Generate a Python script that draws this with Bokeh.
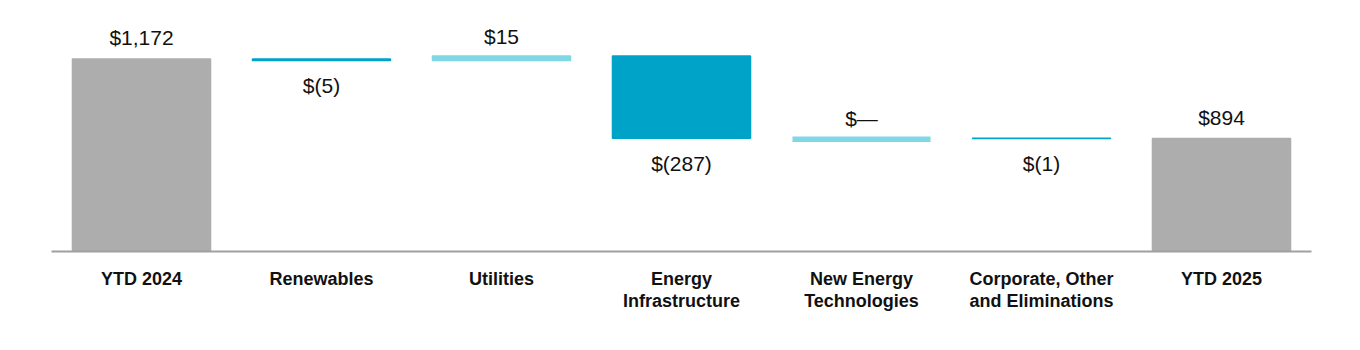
from bokeh.plotting import figure
from bokeh.models import ColumnDataSource, Range1d, FactorRange
from bokeh.core.properties import value
from bokeh.embed import file_html
from bokeh.resources import INLINE

categories = ["YTD 2024", "Renewables", "Utilities", "Energy\nInfrastructure",
              "New Energy\nTechnologies", "Corporate, Other\nand Eliminations", "YTD 2025"]
kinds = ["total", "delta", "delta", "delta", "delta", "delta", "total"]
values = [1172, -5, 15, -287, 0, -1, 894]
labels = ["$1,172", "$(5)", "$15", "$(287)", "$\u2014", "$(1)", "$894"]
axis_min = 500

GRAY = "#ADADAD"
NEG = "#00A3C8"
POS = "#80D7E5"

bottoms, tops, colors, lab_y, lab_off = [], [], [], [], []
level = 0
for k, v in zip(kinds, values):
    if k == "total":
        b, t = axis_min, v
        level = v
        c = GRAY
        lab_y.append(t); lab_off.append(-21)
    else:
        b, t = level, level + v
        level = level + v
        c = NEG if v < 0 else POS
        if v < 0:
            lab_y.append(min(b, t)); lab_off.append(25)
        else:
            lab_y.append(max(b, t)); lab_off.append(-20)
    bottoms.append(b); tops.append(t); colors.append(c)

nz = [i for i, v in enumerate(values) if not (kinds[i] == "delta" and v == 0)]
z = [i for i, v in enumerate(values) if kinds[i] == "delta" and v == 0]

p = figure(width=1360, height=350, output_backend="svg", toolbar_location=None,
           x_range=FactorRange(*categories, range_padding=0),
           y_range=Range1d(axis_min, 1376),
           min_border_left=51, min_border_right=49, min_border_top=0, min_border_bottom=99)
p.outline_line_color = None
p.grid.visible = False
p.yaxis.visible = False
p.background_fill_color = "white"
p.border_fill_color = "white"

nsrc = ColumnDataSource(dict(x=[categories[i] for i in nz], bottom=[bottoms[i] for i in nz],
                             top=[tops[i] for i in nz], color=[colors[i] for i in nz]))
p.vbar(x="x", bottom="bottom", top="top", width=0.767, fill_color="color",
       line_color="color", line_width=1.5, source=nsrc)
for i in z:
    p.segment(x0=[(categories[i], -0.3835)], x1=[(categories[i], 0.3835)],
              y0=[tops[i] - 3], y1=[tops[i] - 3], line_color=colors[i], line_width=5.5, line_cap="butt")

lsrc = ColumnDataSource(dict(x=categories, y=lab_y, t=labels, off=lab_off))
p.text(x="x", y="y", text="t", y_offset="off", source=lsrc, text_align="center",
       text_baseline="middle", text_font=value("Liberation Sans"), text_font_size="21px",
       text_color="#111111")

ax = p.xaxis[0]
ax.axis_line_color = "#A0A0A0"
ax.axis_line_width = 2
ax.major_tick_line_color = None
ax.minor_tick_line_color = None
ax.major_label_text_font = "Liberation Sans"
ax.major_label_text_font_style = "bold"
ax.major_label_text_font_size = "18px"
ax.major_label_text_color = "#111111"
ax.major_label_standoff = 11
ax.major_label_text_line_height = 1.1

open("out.html", "w").write(file_html(p, INLINE))
